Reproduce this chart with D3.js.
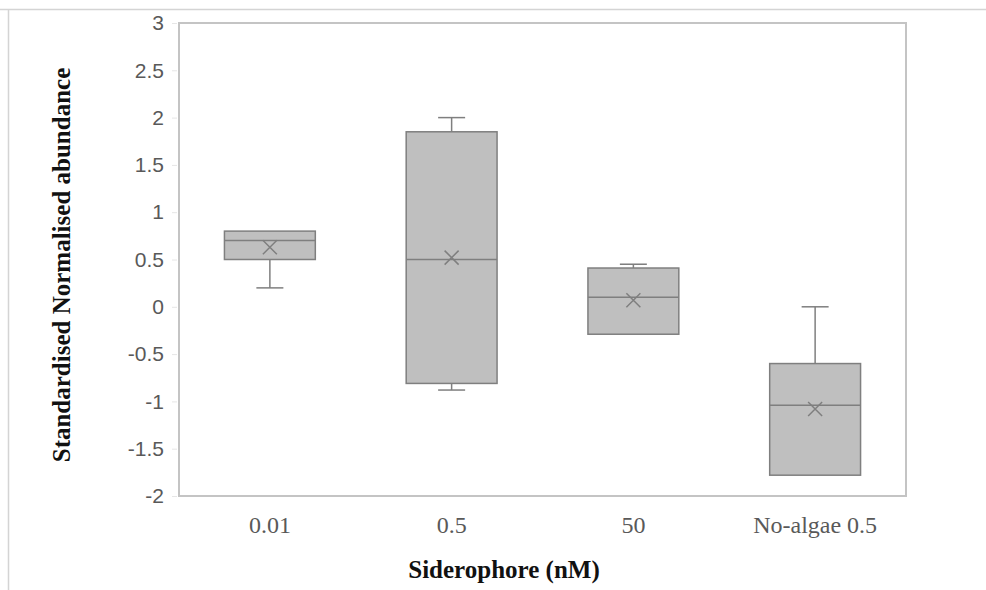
<!DOCTYPE html>
<html>
<head>
<meta charset="utf-8">
<script src="https://cdn.jsdelivr.net/npm/d3@7"></script>
<style>
  body { margin: 0; background: #fff; }
</style>
</head>
<body>
<div id="chart"></div>
<script>
const categories = ['0.01', '0.5', '50', 'No-algae 0.5']
const whiskerLow = [0.2, -0.88, -0.29, -1.78]
const q1 = [0.5, -0.81, -0.29, -1.78]
const median = [0.7, 0.5, 0.1, -1.04]
const q3 = [0.8, 1.85, 0.41, -0.6]
const whiskerHigh = [0.8, 2.0, 0.45, 0.0]
const mean = [0.63, 0.52, 0.07, -1.08]
const yTicks = [-2, -1.5, -1, -0.5, 0, 0.5, 1, 1.5, 2, 2.5, 3]

const w = 986
const h = 590
const margin = { left: 179, right: 80, top: 23, bottom: 94 }

const boxes = categories.map((c, i) => ({
  cat: c, lo: whiskerLow[i], q1: q1[i], med: median[i], q3: q3[i], hi: whiskerHigh[i], mean: mean[i]
}))

const svg = d3.select('#chart')
  .append('svg')
  .attr('width', w)
  .attr('height', h)

// outer frame
svg.append('line')
  .attr('x1', 0).attr('x2', w).attr('y1', 9.5).attr('y2', 9.5)
  .attr('stroke', '#d4d4d4').attr('stroke-width', 1.5)
svg.append('line')
  .attr('x1', 8.5).attr('x2', 8.5).attr('y1', 9.5).attr('y2', h)
  .attr('stroke', '#d4d4d4').attr('stroke-width', 1.5)

const x = d3.scaleBand()
  .domain(categories)
  .range([margin.left, w - margin.right])
  .padding(0)

const y = d3.scaleLinear()
  .domain([-2, 3])
  .range([h - margin.bottom, margin.top])

const boxW = x.bandwidth() * 0.5
const capW = 27

// y axis labels
const yAxis = d3.axisLeft(y)
  .tickValues(yTicks)
  .tickFormat(d => String(d))
  .tickSize(5)
  .tickPadding(8)

const gy = svg.append('g')
  .attr('transform', 'translate(' + (margin.left - 2) + ',0)')
  .call(yAxis)
gy.select('.domain').remove()
gy.selectAll('.tick line').attr('stroke', '#e6e6e6')
gy.selectAll('.tick text')
  .attr('fill', '#595959')
  .style('font-family', '"Liberation Sans", Arial, sans-serif')
  .style('font-size', '21px')

// x axis labels
const xAxis = d3.axisBottom(x).tickSize(0).tickPadding(20)
const gx = svg.append('g')
  .attr('transform', 'translate(0,' + (h - margin.bottom) + ')')
  .call(xAxis)
gx.select('.domain').remove()
gx.selectAll('.tick text')
  .attr('fill', '#595959')
  .style('font-family', '"Liberation Serif", "Times New Roman", serif')
  .style('font-size', '24px')

// plot border
svg.append('rect')
  .attr('x', margin.left)
  .attr('y', margin.top)
  .attr('width', w - margin.left - margin.right)
  .attr('height', h - margin.top - margin.bottom)
  .attr('fill', 'none')
  .attr('stroke', '#c4c4c4')
  .attr('stroke-width', 2)

const stroke = '#7f7f7f'
const g = svg.selectAll('.box')
  .data(boxes)
  .enter()
  .append('g')
  .attr('class', 'box')

const cx = d => x(d.cat) + x.bandwidth() / 2

// whiskers
g.filter(d => d.hi > d.q3).append('line')
  .attr('x1', cx).attr('x2', cx)
  .attr('y1', d => y(d.q3)).attr('y2', d => y(d.hi))
  .attr('stroke', stroke).attr('stroke-width', 1.5)
g.filter(d => d.hi > d.q3).append('line')
  .attr('x1', d => cx(d) - capW / 2).attr('x2', d => cx(d) + capW / 2)
  .attr('y1', d => y(d.hi)).attr('y2', d => y(d.hi))
  .attr('stroke', stroke).attr('stroke-width', 1.5)
g.filter(d => d.lo < d.q1).append('line')
  .attr('x1', cx).attr('x2', cx)
  .attr('y1', d => y(d.q1)).attr('y2', d => y(d.lo))
  .attr('stroke', stroke).attr('stroke-width', 1.5)
g.filter(d => d.lo < d.q1).append('line')
  .attr('x1', d => cx(d) - capW / 2).attr('x2', d => cx(d) + capW / 2)
  .attr('y1', d => y(d.lo)).attr('y2', d => y(d.lo))
  .attr('stroke', stroke).attr('stroke-width', 1.5)

// boxes
g.append('rect')
  .attr('x', d => cx(d) - boxW / 2)
  .attr('y', d => y(d.q3))
  .attr('width', boxW)
  .attr('height', d => y(d.q1) - y(d.q3))
  .attr('fill', '#bfbfbf')
  .attr('stroke', stroke)
  .attr('stroke-width', 1.5)

// median
g.append('line')
  .attr('x1', d => cx(d) - boxW / 2).attr('x2', d => cx(d) + boxW / 2)
  .attr('y1', d => y(d.med)).attr('y2', d => y(d.med))
  .attr('stroke', stroke).attr('stroke-width', 1.5)

// mean marker
const m = 7
g.append('path')
  .attr('d', d => {
    const px = cx(d), py = y(d.mean)
    return 'M' + (px - m) + ',' + (py - m) + 'L' + (px + m) + ',' + (py + m) +
      'M' + (px - m) + ',' + (py + m) + 'L' + (px + m) + ',' + (py - m)
  })
  .attr('stroke', stroke).attr('stroke-width', 1.5).attr('fill', 'none')

// axis titles
svg.append('text')
  .attr('transform', 'translate(70,265) rotate(-90)')
  .attr('text-anchor', 'middle')
  .style('font-family', '"Liberation Serif", "Times New Roman", serif')
  .style('font-size', '25px')
  .style('font-weight', 'bold')
  .attr('fill', '#111')
  .text('Standardised Normalised abundance')

svg.append('text')
  .attr('x', 504)
  .attr('y', 578)
  .attr('text-anchor', 'middle')
  .style('font-family', '"Liberation Serif", "Times New Roman", serif')
  .style('font-size', '25px')
  .style('font-weight', 'bold')
  .attr('fill', '#111')
  .text('Siderophore (nM)')
</script>
</body>
</html>
